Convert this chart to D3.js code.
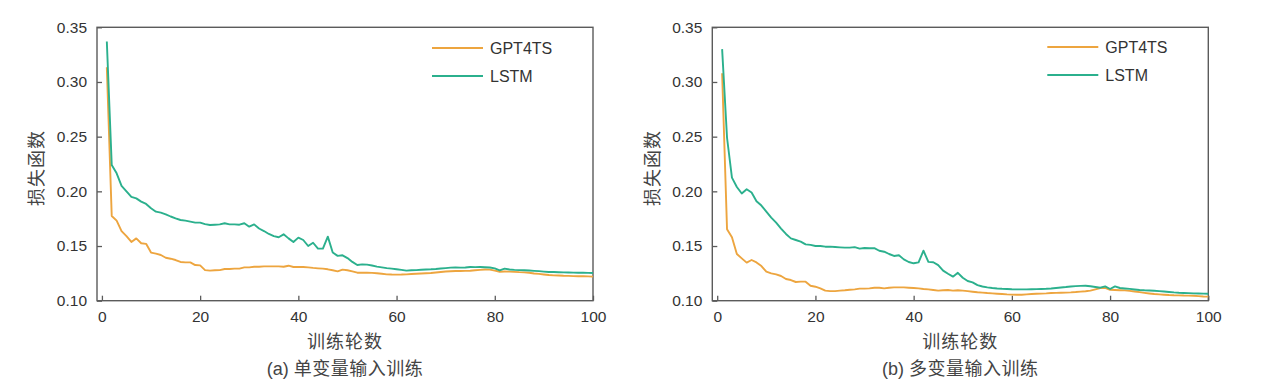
<!DOCTYPE html>
<html>
<head>
<meta charset="utf-8">
<script src="https://cdn.jsdelivr.net/npm/d3@7"></script>
<style>
  body { margin: 0; background: #fff; }
  svg text { font-family: "Liberation Sans", Arial, sans-serif; }
  .cjk { font-family: "Noto Sans CJK SC", sans-serif; }
</style>
</head>
<body>
<div id="chart"></div>
<script>
// canvas
const canvWidth = 1270, canvHeight = 388;
const svg = d3.select("#chart").append("svg")
    .attr("width", canvWidth)
    .attr("height", canvHeight);

// data, epochs 1..100
const epochs = d3.range(1, 101);
const xTicks = [0, 20, 40, 60, 80, 100];
const yTicks = [0.10, 0.15, 0.20, 0.25, 0.30, 0.35];
const seriesNames = ["GPT4TS", "LSTM"];

const uniGPT4TS = [
  0.3135, 0.1775, 0.1732, 0.1637, 0.159, 0.1537, 0.157, 0.1525, 0.152, 0.144,
  0.143, 0.1418, 0.1393, 0.1384, 0.1372, 0.1354, 0.135, 0.135, 0.1326, 0.1323,
  0.128, 0.1275, 0.1278, 0.128, 0.129, 0.129, 0.1293, 0.1293, 0.1305, 0.1305,
  0.131, 0.131, 0.1314, 0.1314, 0.1314, 0.1314, 0.131, 0.132, 0.1308, 0.1308,
  0.1308, 0.1305, 0.130, 0.1296, 0.1293, 0.1287, 0.1278, 0.1268, 0.1284, 0.1278,
  0.1268, 0.1256, 0.1256, 0.1256, 0.1254, 0.1251, 0.1246, 0.1241, 0.1239, 0.1238,
  0.1239, 0.1241, 0.1244, 0.1247, 0.1249, 0.1251, 0.1253, 0.1258, 0.1263, 0.1267,
  0.1269, 0.1271, 0.1272, 0.1273, 0.1274, 0.1278, 0.1282, 0.1285, 0.1284, 0.1275,
  0.1265, 0.1267, 0.1266, 0.1264, 0.1261, 0.1259, 0.1255, 0.1249, 0.1245, 0.124,
  0.1235, 0.1232, 0.123, 0.1228, 0.1227, 0.1225, 0.1224, 0.1223, 0.1222, 0.122
];
const uniLSTM = [
  0.337, 0.224, 0.2165, 0.205, 0.200, 0.195, 0.1936, 0.1906, 0.1885, 0.1845,
  0.1814, 0.1805, 0.179, 0.177, 0.1753, 0.1738, 0.1732, 0.1723, 0.1714, 0.1714,
  0.170, 0.1692, 0.1695, 0.1698, 0.1708, 0.1698, 0.1698, 0.1695, 0.1708, 0.1677,
  0.1698, 0.166, 0.1637, 0.161, 0.159, 0.158, 0.1607, 0.157, 0.1537, 0.1577,
  0.1555, 0.150, 0.153, 0.1476, 0.1476, 0.1586, 0.144, 0.141, 0.1415, 0.139,
  0.1355, 0.1326, 0.1332, 0.133, 0.1322, 0.1312, 0.1305, 0.1298, 0.1293, 0.1287,
  0.1282, 0.1275, 0.1278, 0.128, 0.1283, 0.1285, 0.1287, 0.129, 0.1294, 0.1298,
  0.1302, 0.1305, 0.1302, 0.1304, 0.1308, 0.1307, 0.1308, 0.1306, 0.1304, 0.1295,
  0.1278, 0.1293, 0.1285, 0.1282, 0.128, 0.1279, 0.1276, 0.1273, 0.127, 0.1266,
  0.1262, 0.1262, 0.126, 0.1259, 0.1258, 0.1257, 0.1256, 0.1255, 0.1254, 0.1253
];
const multiGPT4TS = [
  0.308, 0.1653, 0.158, 0.1427, 0.1387, 0.1348, 0.1372, 0.135, 0.1317, 0.1265,
  0.125, 0.1241, 0.1226, 0.1198, 0.1189, 0.1171, 0.1174, 0.1174, 0.1137, 0.1128,
  0.1113, 0.1092, 0.1088, 0.1088, 0.1092, 0.1095, 0.110, 0.1104, 0.111, 0.111,
  0.1113, 0.1119, 0.1119, 0.1113, 0.1119, 0.1122, 0.1122, 0.1122, 0.1119, 0.1116,
  0.1113, 0.1107, 0.1104, 0.1098, 0.1092, 0.1095, 0.1098, 0.1092, 0.1095, 0.1092,
  0.1088, 0.1082, 0.1077, 0.1074, 0.107, 0.1067, 0.1064, 0.1061, 0.1058, 0.1056,
  0.1055, 0.1055, 0.1058, 0.1061, 0.1063, 0.1065, 0.1067, 0.107, 0.1072, 0.1073,
  0.1074, 0.1076, 0.1079, 0.1083, 0.1087, 0.1092, 0.1104, 0.1115, 0.1118, 0.110,
  0.1098, 0.1096, 0.1094, 0.109, 0.1084, 0.1078, 0.1072, 0.1066, 0.1061, 0.1058,
  0.1055, 0.1052, 0.105, 0.1049, 0.1047, 0.1046, 0.1045, 0.1042, 0.1039, 0.1037
];
const multiLSTM = [
  0.33, 0.249, 0.2125, 0.204, 0.198, 0.2019, 0.199, 0.191, 0.187, 0.1814,
  0.176, 0.1714, 0.166, 0.161, 0.157, 0.1555, 0.154, 0.1515, 0.151, 0.150,
  0.150, 0.1494, 0.1494, 0.1491, 0.1488, 0.1485, 0.1485, 0.149, 0.1476, 0.1482,
  0.1479, 0.148, 0.1457, 0.1448, 0.1427, 0.1409, 0.1415, 0.1378, 0.1354, 0.1342,
  0.135, 0.1457, 0.1355, 0.1352, 0.1325, 0.1275, 0.1246, 0.122, 0.1255, 0.121,
  0.118, 0.1168, 0.1143, 0.113, 0.1122, 0.1116, 0.1112, 0.1109, 0.1107, 0.1105,
  0.1104, 0.1104, 0.1104, 0.1105, 0.1106, 0.1107, 0.1109, 0.1112, 0.1116, 0.1121,
  0.1125, 0.113, 0.1133, 0.1136, 0.1137, 0.1132, 0.1125, 0.1119, 0.1131, 0.1107,
  0.1131, 0.1116, 0.1112, 0.1108, 0.1103, 0.1098, 0.1095, 0.1093, 0.1091, 0.1088,
  0.1084, 0.108, 0.1076, 0.1073, 0.1071, 0.1069, 0.1067, 0.1066, 0.1065, 0.1064
];

const color = d3.scaleOrdinal()
    .domain(seriesNames)
    .range(["#EDA53F", "#2BB08D"]);

const frameColor = "#5b5b5b";

function drawPanel(left, tag, caption, gptVals, lstmVals, legendY) {
    const right = left + 496, top = 27.3, bottom = 300.7;

    const x = d3.scaleLinear().domain([-1, 100]).range([left, right]);
    const y = d3.scaleLinear().domain([0.10, 0.35]).range([bottom, top]);

    const g = svg.append("g");

    // axes, ticks pointing inward
    const yAxis = g.append("g")
        .attr("transform", `translate(${left},0)`)
        .call(d3.axisLeft(y).tickValues(yTicks).tickFormat(d3.format(".2f"))
            .tickSizeInner(-5).tickSizeOuter(0).tickPadding(10));
    const xAxis = g.append("g")
        .attr("transform", `translate(0,${bottom})`)
        .call(d3.axisBottom(x).tickValues(xTicks)
            .tickSizeInner(-5).tickSizeOuter(0).tickPadding(10));

    [yAxis, xAxis].forEach(a => {
        a.select(".domain").remove();
        a.selectAll(".tick line").attr("stroke", frameColor).attr("stroke-width", 1.3);
        a.selectAll(".tick text")
            .attr("fill", "#333")
            .style("font-size", "15.5px")
            .style("font-family", "'Liberation Sans', Arial, sans-serif");
    });

    // frame
    g.append("rect")
        .attr("x", left).attr("y", top)
        .attr("width", right - left).attr("height", bottom - top)
        .attr("fill", "none")
        .attr("stroke", frameColor)
        .attr("stroke-width", 1.4);

    const line = d3.line()
        .x((d, i) => x(epochs[i]))
        .y(d => y(d));

    [[gptVals, "GPT4TS"], [lstmVals, "LSTM"]].forEach(([vals, name]) => {
        g.append("path")
            .datum(vals)
            .attr("fill", "none")
            .attr("stroke", color(name))
            .attr("stroke-width", 1.9)
            .attr("stroke-linejoin", "round")
            .attr("d", line);
    });

    // legend
    const leg = g.selectAll(".leg")
        .data(seriesNames)
        .join("g")
        .attr("transform", (d, i) => `translate(${left + 335},${legendY + i * 28})`);
    leg.append("line")
        .attr("x1", 0).attr("x2", 51)
        .attr("stroke", d => color(d))
        .attr("stroke-width", 1.9);
    leg.append("text")
        .attr("x", 58).attr("dy", "0.36em")
        .attr("fill", "#333")
        .style("font-size", "16px")
        .text(d => d);

    // axis titles
    g.append("text")
        .attr("class", "cjk")
        .attr("transform", `translate(${left - 60},${(top + bottom) / 2 + 4}) rotate(-90)`)
        .attr("text-anchor", "middle")
        .attr("dy", "0.35em")
        .attr("fill", "#444")
        .style("font-size", "18px")
        .style("letter-spacing", "1px")
        .text("损失函数");

    g.append("text")
        .attr("class", "cjk")
        .attr("x", (left + right) / 2).attr("y", 348)
        .attr("text-anchor", "middle")
        .attr("fill", "#444")
        .style("font-size", "18px")
        .style("letter-spacing", "1px")
        .text("训练轮数");

    const cap = g.append("text")
        .attr("x", (left + right) / 2).attr("y", 375)
        .attr("text-anchor", "middle")
        .attr("fill", "#444")
        .style("font-size", "18px");
    cap.append("tspan")
        .style("font-family", "'Liberation Sans', Arial, sans-serif")
        .text(tag + " ");
    cap.append("tspan")
        .attr("class", "cjk")
        .style("letter-spacing", "0.5px")
        .text(caption);
}

drawPanel(97, "(a)", "单变量输入训练", uniGPT4TS, uniLSTM, 48);
drawPanel(712.3, "(b)", "多变量输入训练", multiGPT4TS, multiLSTM, 47);
</script>
</body>
</html>
